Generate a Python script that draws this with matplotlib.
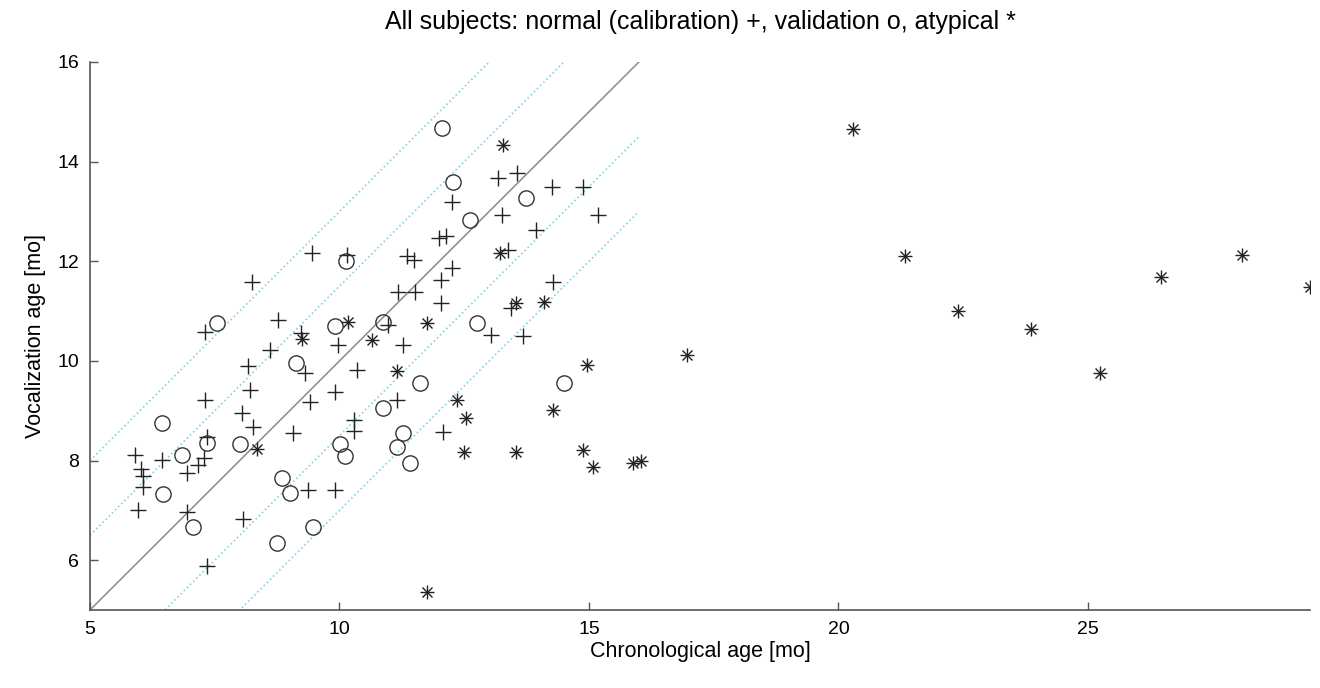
import numpy as np
import matplotlib.pyplot as plt

plt.rcParams['font.family'] = ['Liberation Sans', 'DejaVu Sans']

# normal subjects (calibration set), chronological vs vocalization age
calib_x = [5.90, 6.03, 6.06, 6.06, 5.96, 6.44, 6.95, 7.17, 7.29, 7.35, 7.31, 7.31,
           6.95, 7.35, 8.25, 8.04, 8.17, 8.21, 8.27, 8.07, 8.61, 8.77, 9.07, 9.23,
           9.31, 9.41, 9.37, 9.45, 9.91, 9.97, 9.91, 10.16, 10.36, 10.30, 10.30, 10.97,
           11.15, 11.28, 11.18, 11.36, 11.50, 11.52, 12.04, 12.04, 12.08, 12.26, 12.26,
           12.00, 12.14, 13.04, 13.18, 13.26, 13.38, 13.55, 13.43, 13.67, 13.93, 14.27,
           14.25, 14.89, 15.19]
calib_y = [8.11, 7.83, 7.69, 7.47, 7.00, 8.01, 7.75, 7.91, 8.05, 8.47, 9.21, 10.58,
           6.96, 5.88, 11.58, 8.95, 9.90, 9.41, 8.67, 6.82, 10.22, 10.82, 8.55, 10.56,
           9.76, 9.18, 7.41, 12.16, 9.38, 10.32, 7.41, 12.12, 9.82, 8.81, 8.59, 10.73,
           9.21, 10.32, 11.38, 12.10, 12.02, 11.38, 11.62, 11.16, 8.57, 11.86, 13.19,
           12.47, 12.51, 10.52, 13.67, 12.93, 12.22, 13.77, 11.06, 10.50, 12.63, 11.58,
           13.49, 13.49, 12.93]

# validation set
valid_x = [6.44, 6.46, 6.85, 7.07, 7.35, 7.55, 8.01, 8.75, 8.85, 9.01, 9.13, 9.47,
           9.91, 10.14, 10.02, 10.12, 10.88, 10.88, 11.28, 11.16, 11.42, 11.62, 12.06,
           12.28, 12.62, 12.76, 13.73, 14.49]
valid_y = [8.75, 7.33, 8.11, 6.66, 8.35, 10.76, 8.33, 6.34, 7.65, 7.35, 9.96, 6.66,
           10.70, 12.00, 8.33, 8.09, 10.78, 9.05, 8.55, 8.27, 7.95, 9.55, 14.67,
           13.59, 12.83, 10.76, 13.27, 9.55]

# atypical subjects
atyp_x = [8.35, 9.25, 10.18, 10.66, 11.16, 11.76, 11.76, 13.28, 13.22, 13.53, 14.09,
          12.36, 12.54, 12.50, 13.53, 14.27, 14.97, 14.89, 15.09, 15.89, 16.05, 16.96,
          20.29, 21.33, 22.39, 23.86, 25.24, 26.46, 28.09, 29.45]
atyp_y = [8.23, 10.44, 10.78, 10.42, 9.80, 10.76, 5.36, 14.33, 12.16, 11.16, 11.18,
          9.21, 8.85, 8.17, 8.17, 9.01, 9.92, 8.21, 7.87, 7.95, 7.99, 10.12,
          14.65, 12.10, 11.00, 10.64, 9.75, 11.68, 12.12, 11.48]

band_offsets = [3.0, 1.5, -1.5, -3.0]

fig = plt.figure(figsize=(13.2, 6.88), dpi=100)
ax = fig.add_axes([90 / 1320, 78 / 688, 1220 / 1320, 548 / 688])

line_x = np.array([5.0, 16.0])
for off in band_offsets:
    ax.plot(line_x, line_x + off, linestyle=':', color='#7dd6e0', linewidth=1.2)
ax.plot(line_x, line_x, color='#8a8a8a', linewidth=1.1)

ax.plot(calib_x, calib_y, linestyle='none', marker='+', markersize=12,
        markeredgewidth=1.0, color='#222222')
ax.plot(valid_x, valid_y, linestyle='none', marker='o', markersize=11,
        markeredgewidth=1.0, markerfacecolor='none', markeredgecolor='#333333')
# matlab style asterisk = plus + cross
ax.plot(atyp_x, atyp_y, linestyle='none', marker='+', markersize=10,
        markeredgewidth=1.0, color='#222222')
ax.plot(atyp_x, atyp_y, linestyle='none', marker='x', markersize=7,
        markeredgewidth=1.0, color='#222222')

ax.set_xlim(5, 29.45)
ax.set_ylim(5, 16)
ax.set_xticks([5, 10, 15, 20, 25])
ax.set_yticks([6, 8, 10, 12, 14, 16])

for side in ['top', 'right']:
    ax.spines[side].set_visible(False)
for side in ['left', 'bottom']:
    ax.spines[side].set_color('#555555')
    ax.spines[side].set_linewidth(1.2)
ax.tick_params(direction='in', length=6, width=1.0, color='#555555',
               labelsize=14, pad=8)

ax.set_title('All subjects: normal (calibration) +, validation o, atypical *',
             fontsize=18, pad=24)
ax.set_xlabel('Chronological age [mo]', fontsize=15.5, labelpad=2)
ax.set_ylabel('Vocalization age [mo]', fontsize=15.5, labelpad=8)

fig.savefig('out.png', dpi=100)
